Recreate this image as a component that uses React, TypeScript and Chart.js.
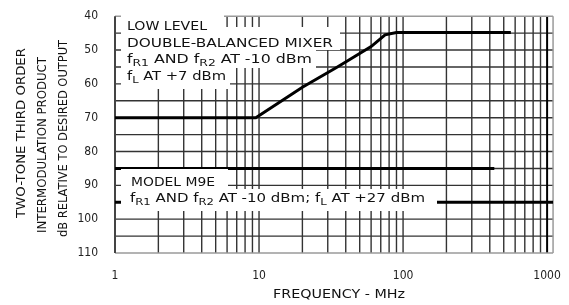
import React, { useEffect, useRef } from "react";
import { Chart, registerables } from "chart.js";

Chart.register(...registerables);

// ---- data ----
const lowLevelFreq = [1, 9.5, 20, 35, 60, 75, 90, 560];
const lowLevelDb = [70, 70, 61, 55, 49, 45.5, 44.8, 44.8];
const upperFreq = [1, 430];
const upperDb = [85, 85];
const m9eFreq = [1, 1100];
const m9eDb = [95, 95];
const xGridValues = [2, 3, 4, 5, 6, 7, 8, 9, 10, 20, 30, 40, 50, 60, 70, 80, 90, 100, 200, 300, 400, 500, 600, 700, 800, 900, 1000];
const yGridValues = [45, 50, 55, 60, 65, 70, 75, 80, 85, 90, 95, 100, 105];
const xLabelValues = [1, 10, 100, 1000];
const yLabelValues = [40, 50, 60, 70, 80, 90, 100, 110];

type Seg = { t: string; sub?: boolean };

const FONT = "'DejaVu Sans Condensed', 'DejaVu Sans', sans-serif";

function drawRich(ctx: CanvasRenderingContext2D, segs: Seg[], x: number, y: number, width: number, size: number) {
  const subSize = size * 0.78;
  let total = 0;
  for (const s of segs) {
    ctx.font = `${s.sub ? subSize : size}px ${FONT}`;
    total += ctx.measureText(s.t).width;
  }
  const k = width / total;
  ctx.save();
  ctx.translate(x, y);
  ctx.scale(k, 1);
  let cx = 0;
  for (const s of segs) {
    ctx.font = `${s.sub ? subSize : size}px ${FONT}`;
    ctx.fillText(s.t, cx, s.sub ? size * 0.28 : 0);
    cx += ctx.measureText(s.t).width;
  }
  ctx.restore();
}

const gridPlugin = {
  id: "customGrid",
  beforeDatasetsDraw(chart: any) {
    const ctx: CanvasRenderingContext2D = chart.ctx;
    const { left, right, top, bottom } = chart.chartArea;
    const xs = chart.scales.x;
    const ys = chart.scales.y;
    ctx.save();
    const line = (x1: number, y1: number, x2: number, y2: number, c: string, w: number) => {
      ctx.strokeStyle = c;
      ctx.lineWidth = w;
      ctx.beginPath();
      ctx.moveTo(x1, y1);
      ctx.lineTo(x2, y2);
      ctx.stroke();
    };
    for (const v of yGridValues) {
      const y = ys.getPixelForValue(v);
      line(left, y, right, y, "#333", 1.4);
    }
    for (const v of xGridValues) {
      const x = xs.getPixelForValue(v);
      if (v === 1000) line(x, top, x, bottom, "#000", 2);
      else line(x, top, x, bottom, "#333", 1.4);
    }
    line(left, top, right, top, "#9a9a9a", 1.5);
    line(left, bottom, right, bottom, "#9a9a9a", 1.5);
    line(right, top, right, bottom, "#9a9a9a", 1.5);
    line(left, top, left, bottom, "#444", 2);
    ctx.restore();
  },
};

const annotPlugin = {
  id: "annot",
  afterDatasetsDraw(chart: any) {
    const ctx: CanvasRenderingContext2D = chart.ctx;
    ctx.save();
    ctx.fillStyle = "#ffffff";
    const boxes = [
      [121, 15, 224, 31],
      [121, 27, 340, 50],
      [121, 50, 316, 68],
      [121, 68, 230, 89],
      [121, 169, 228, 189],
      [121, 189, 437, 211],
    ];
    for (const b of boxes) ctx.fillRect(b[0], b[1], b[2] - b[0], b[3] - b[1]);
    ctx.fillStyle = "#111";
    ctx.textAlign = "left";
    ctx.textBaseline = "alphabetic";
    drawRich(ctx, [{ t: "LOW LEVEL" }], 127, 30, 80, 12);
    drawRich(ctx, [{ t: "DOUBLE-BALANCED MIXER" }], 127, 47, 206, 12);
    drawRich(ctx, [{ t: "f" }, { t: "R1", sub: true }, { t: " AND f" }, { t: "R2", sub: true }, { t: " AT -10 dBm" }], 127, 63, 185, 12);
    drawRich(ctx, [{ t: "f" }, { t: "L", sub: true }, { t: " AT +7 dBm" }], 127, 80, 99, 12);
    drawRich(ctx, [{ t: "MODEL M9E" }], 131, 186, 84, 12);
    drawRich(ctx, [{ t: "f" }, { t: "R1", sub: true }, { t: " AND f" }, { t: "R2", sub: true }, { t: " AT -10 dBm; f" }, { t: "L", sub: true }, { t: " AT +27 dBm" }], 130, 202, 295, 12);

    // axis titles
    drawRich(ctx, [{ t: "FREQUENCY - MHz" }], 273, 298, 132, 12);
    const yt = [
      { t: "TWO-TONE THIRD ORDER", x: 25, y0: 218, w: 170 },
      { t: "INTERMODULATION PRODUCT", x: 46, y0: 233, w: 176 },
      { t: "dB RELATIVE TO DESIRED OUTPUT", x: 67, y0: 237, w: 197 },
    ];
    for (const l of yt) {
      ctx.save();
      ctx.translate(l.x, l.y0);
      ctx.rotate(-Math.PI / 2);
      drawRich(ctx, [{ t: l.t }], 0, 0, l.w, 13);
      ctx.restore();
    }
    ctx.restore();
  },
};

export default function App() {
  const ref = useRef<HTMLCanvasElement | null>(null);
  useEffect(() => {
    if (!ref.current) return;
    const mk = (xs: number[], ys: number[]) => xs.map((x, i) => ({ x, y: ys[i] }));
    const lineDs = (label: string, xs: number[], ys: number[]) => ({
      label,
      data: mk(xs, ys),
      showLine: true,
      borderColor: "#000",
      borderWidth: 3,
      pointRadius: 0,
      fill: false,
      tension: 0,
    });
    const chart = new Chart(ref.current, {
      type: "scatter",
      data: {
        datasets: [
          lineDs("Low level double-balanced mixer", lowLevelFreq, lowLevelDb),
          lineDs("Upper", upperFreq, upperDb),
          lineDs("Model M9E", m9eFreq, m9eDb),
        ],
      },
      options: {
        animation: false,
        responsive: false,
        layout: { padding: { left: 0, top: 14, right: 12, bottom: 0 } },
        plugins: { legend: { display: false }, tooltip: { enabled: false } },
        scales: {
          x: {
            type: "logarithmic",
            min: 1,
            max: 1100,
            afterBuildTicks: (scale: any) => {
              scale.ticks = xLabelValues.map((v) => ({ value: v }));
            },
            afterFit: (scale: any) => {
              scale.height = 52;
            },
            ticks: {
              autoSkip: false,
              maxRotation: 0,
              padding: 8,
              color: "#222",
              font: { family: FONT, size: 12 },
              callback: (v: any) => String(v),
            },
            grid: { display: false },
            border: { display: false },
          },
          y: {
            type: "linear",
            reverse: true,
            min: 40,
            max: 110,
            afterBuildTicks: (scale: any) => {
              scale.ticks = yLabelValues.map((v) => ({ value: v }));
            },
            afterFit: (scale: any) => {
              scale.width = 115;
            },
            ticks: {
              padding: 9,
              color: "#222",
              font: { family: FONT, size: 12 },
              callback: (v: any) => String(v),
            },
            grid: { display: false },
            border: { display: false },
          },
        },
      },
      plugins: [gridPlugin, annotPlugin],
    } as any);
    return () => chart.destroy();
  }, []);
  return (
    <div style={{ position: "fixed", left: 0, top: 0, width: 569, height: 305, background: "#fff" }}>
      <canvas ref={ref} width={569} height={305} style={{ width: 569, height: 305 }} />
    </div>
  );
}
